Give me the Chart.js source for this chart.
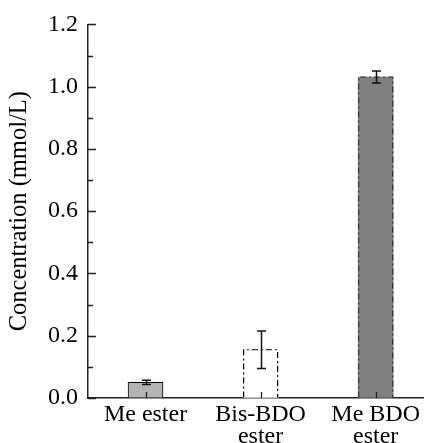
<!DOCTYPE html>
<html>
<head>
<meta charset="utf-8">
<script src="https://cdn.jsdelivr.net/npm/chart.js@4/dist/chart.umd.min.js"></script>
<style>
  html, body { margin: 0; padding: 0; background: #fff; }
  #wrap { width: 426px; height: 443px; }
</style>
</head>
<body>
<div id="wrap"><canvas id="chart"></canvas></div>
<script>
// data
var categories = [['Me ester'], ['Bis-BDO', 'ester'], ['Me BDO', 'ester']];
var positions = [0, 1, 2];
var concentration = [0.050, 0.155, 1.031];
var errors = [0.007, 0.060, 0.019];
var yMajor = [0, 0.2, 0.4, 0.6, 0.8, 1.0, 1.2];
var yMinor = [0.1, 0.3, 0.5, 0.7, 0.9, 1.1];

var fills = ['#b3b3b3', '#ffffff', '#808080'];
var dashed = [false, true, true];
var dashColor = ['#000', '#000', '#333'];
var serif = "'Liberation Serif', 'Times New Roman', Times, serif";

// inward ticks on both axes
var innerTicks = {
  id: 'innerTicks',
  afterDraw: function(chart) {
    var ctx = chart.ctx, x = chart.scales.x, y = chart.scales.y;
    ctx.save();
    ctx.strokeStyle = '#222';
    ctx.lineWidth = 1.3;
    ctx.beginPath();
    yMajor.forEach(function(v) {
      var py = Math.round(y.getPixelForValue(v)) + 0.5;
      ctx.moveTo(x.left, py); ctx.lineTo(x.left + 8, py);
    });
    yMinor.forEach(function(v) {
      var py = Math.round(y.getPixelForValue(v)) + 0.5;
      ctx.moveTo(x.left, py); ctx.lineTo(x.left + 5, py);
    });
    positions.forEach(function(v) {
      var px = Math.round(x.getPixelForValue(v)) + 0.5;
      ctx.moveTo(px, y.bottom); ctx.lineTo(px, y.bottom - 6);
    });
    ctx.stroke();
    ctx.restore();
  }
};

// dash-dot outlines and error bars
var barExtras = {
  id: 'barExtras',
  afterDatasetsDraw: function(chart) {
    var ctx = chart.ctx, y = chart.scales.y;
    var bars = chart.getDatasetMeta(0).data;
    ctx.save();
    bars.forEach(function(bar, i) {
      var l = bar.x - bar.width / 2, r = bar.x + bar.width / 2;
      if (dashed[i]) {
        ctx.strokeStyle = dashColor[i];
        ctx.lineWidth = 1.2;
        ctx.setLineDash([6, 3, 2, 3]);
        ctx.beginPath();
        ctx.moveTo(l + 0.5, bar.base);
        ctx.lineTo(l + 0.5, bar.y);
        ctx.lineTo(r - 0.5, bar.y);
        ctx.lineTo(r - 0.5, bar.base);
        ctx.stroke();
      }
      ctx.setLineDash([]);
      ctx.strokeStyle = '#111';
      ctx.lineWidth = 1.5;
      var top = y.getPixelForValue(concentration[i] + errors[i]);
      var bot = y.getPixelForValue(concentration[i] - errors[i]);
      var cx = Math.round(bar.x) + 0.5;
      ctx.beginPath();
      ctx.moveTo(cx, top); ctx.lineTo(cx, bot);
      ctx.moveTo(cx - 4.5, top); ctx.lineTo(cx + 4.5, top);
      ctx.moveTo(cx - 4.5, bot); ctx.lineTo(cx + 4.5, bot);
      ctx.stroke();
    });
    ctx.restore();
  }
};

new Chart(document.getElementById('chart'), {
  type: 'bar',
  data: {
    datasets: [{
      data: positions.map(function(p, i) { return { x: p, y: concentration[i] }; }),
      backgroundColor: fills,
      borderColor: '#000',
      borderWidth: dashed.map(function(d) { return d ? 0 : 1; }),
      borderSkipped: 'bottom',
      barThickness: 35
    }]
  },
  options: {
    responsive: true,
    maintainAspectRatio: false,
    animation: false,
    layout: { padding: { top: 23, right: 0, left: 0, bottom: 0 } },
    plugins: { legend: { display: false }, tooltip: { enabled: false } },
    scales: {
      x: {
        type: 'linear',
        offset: false,
        min: -0.5,
        max: 2.414,
        afterBuildTicks: function(scale) {
          scale.ticks = positions.map(function(v) { return { value: v }; });
        },
        afterFit: function(scale) { scale.height = 45; },
        grid: { display: true, offset: false, drawOnChartArea: false, drawTicks: false },
        border: { display: true, color: '#222', width: 1.5 },
        ticks: {
          autoSkip: false,
          maxRotation: 0,
          padding: 6,
          color: '#000',
          font: { family: serif, size: 24, lineHeight: 0.9 },
          callback: function(v) { return categories[v]; }
        }
      },
      y: {
        min: 0,
        max: 1.2,
        afterBuildTicks: function(scale) {
          scale.ticks = yMajor.map(function(v) { return { value: v }; });
        },
        afterFit: function(scale) { scale.width = 88; },
        grid: { display: true, drawOnChartArea: false, drawTicks: false },
        border: { display: true, color: '#222', width: 1.5 },
        ticks: {
          padding: 10,
          color: '#000',
          font: { family: serif, size: 24 },
          callback: function(v) { return v.toFixed(1); }
        },
        title: {
          display: true,
          text: 'Concentration (mmol/L)',
          color: '#000',
          font: { family: serif, size: 24.5 },
          padding: { top: 5, bottom: 0 }
        }
      }
    }
  },
  plugins: [innerTicks, barExtras]
});
</script>
</body>
</html>
